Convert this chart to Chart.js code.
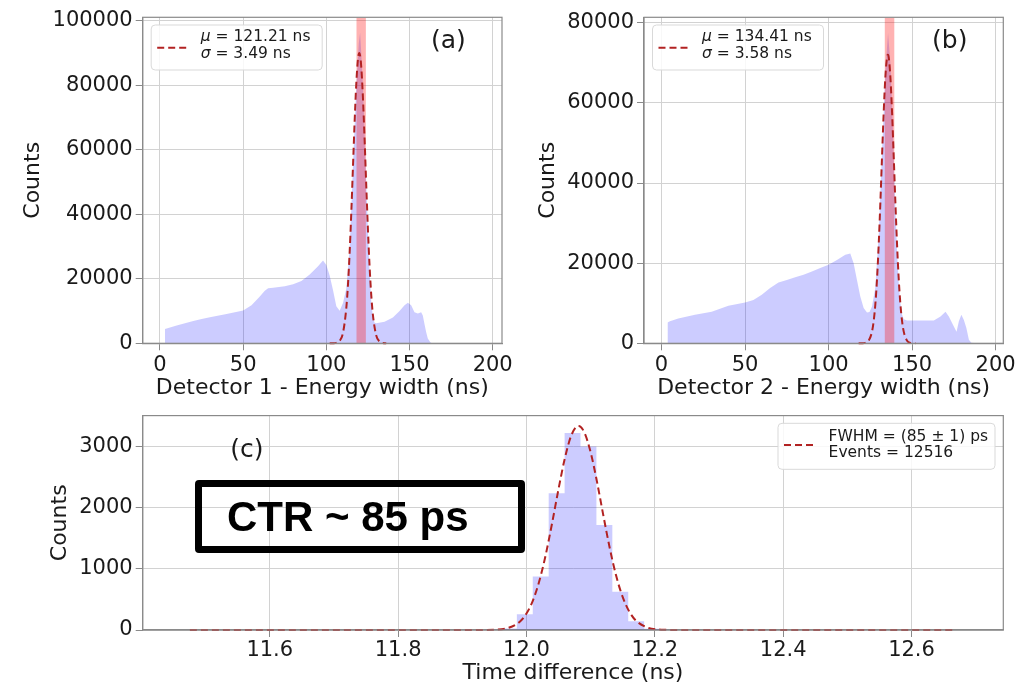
<!DOCTYPE html>
<html>
<head>
<meta charset="UTF-8"/>
<script src="https://cdn.jsdelivr.net/npm/chart.js@4.4.3/dist/chart.umd.min.js"></script>
<style>
  *{margin:0;padding:0;box-sizing:border-box}
  body{width:1035px;height:683px;background:#fff;position:relative;overflow:hidden}
  .panel{position:absolute}
  #ctr{position:absolute;left:195px;top:480px;width:330px;height:73px;border:7px solid #000;border-radius:4px;
       font:bold 42px 'Liberation Sans',Arial,sans-serif;line-height:59px;padding-left:25px;color:#000;white-space:nowrap}
</style>
</head>
<body>
<div class="panel" style="left:0;top:0"><canvas id="chA" width="520" height="410"></canvas></div>
<div class="panel" style="left:520px;top:0"><canvas id="chB" width="515" height="410"></canvas></div>
<div class="panel" style="left:0;top:400px"><canvas id="chC" width="1035" height="290"></canvas></div>
<div id="ctr">CTR ~ 85 ps</div>

<script>
// ─── Data: detector 1 energy width histogram (a) ──────────────────────────────
const aHistX = [2.9, 3, 10, 20, 25, 30, 40, 50, 55, 60, 63, 65, 68, 75, 80, 85, 90, 95, 98, 100,
  102, 104, 106, 108, 110, 112, 114, 116, 118, 119.5, 120.3, 121, 122, 123, 124, 125, 126, 127, 128,
  129, 130, 135, 140, 144, 147, 149, 151, 153, 155, 157, 158, 159, 160, 161, 162.5, 163.5];
const aHistY = [0, 4400, 5500, 6900, 7500, 8100, 9100, 10200, 11800, 14500, 16300, 17100, 17200, 17700,
  18300, 19300, 21300, 23900, 25700, 24300, 21000, 16500, 11500, 10100, 12500, 17000, 29000, 55000,
  80000, 93000, 96300, 90000, 80000, 66000, 50000, 35000, 22000, 13000, 8000, 6400, 6200, 6700, 8000,
  10000, 11800, 12600, 11800, 9600, 9200, 9600, 8600, 6000, 3500, 1500, 300, 0];
const aFitX = [102, 104, 106, 108, 110, 112, 113, 114, 115, 116, 117, 118, 119, 119.8, 120.5, 121, 122,
  123, 124, 125, 126, 127, 128, 130, 132, 134, 136];
const aFitY = [0, 16, 123, 726, 3240, 10940, 18150, 28080, 40530, 54590, 68600, 80450, 88020, 90000,
  88480, 85610, 76110, 63130, 48860, 35280, 23780, 14950, 8775, 2450, 520, 84, 10];
const aBand = [118.0, 123.8];
const aXTicks = [0, 50, 100, 150, 200];
const aYTicks = [0, 20000, 40000, 60000, 80000, 100000];
const aLegend = ['μ = 121.21 ns', 'σ = 3.49 ns'];

// ─── Data: detector 2 energy width histogram (b) ──────────────────────────────
const bHistX = [3.5, 3.6, 5, 10, 20, 30, 40, 50, 55, 60, 65, 70, 75, 80, 85, 90, 95, 100, 105, 110, 113,
  115, 117, 119, 121, 123, 124.5, 126, 128, 130, 132, 134, 135.6, 137, 138, 139, 140, 141, 142, 143,
  144, 145, 147, 155, 163, 167, 170, 172, 175, 176.6, 178, 179.5, 181, 182.5, 184, 185.5, 189];
const bHistY = [0, 5200, 5500, 6200, 7100, 7900, 9400, 10200, 10800, 12100, 13800, 15200, 15800, 16500,
  17100, 17900, 18800, 19600, 20800, 22100, 22400, 20000, 15800, 11700, 8800, 7700, 7800, 9200, 14000,
  27000, 48000, 68000, 77500, 70000, 60000, 47000, 34000, 23000, 15000, 10000, 7200, 6000, 5700, 5700,
  5700, 6700, 7900, 6700, 4200, 2900, 5500, 7100, 5800, 3800, 900, 150, 0];
const bFitX = [118, 120, 122, 124, 126, 127, 128, 129, 130, 131, 132, 133, 134, 135, 135.5, 136, 137,
  138, 139, 140, 141, 142, 143, 144, 145, 147, 149, 151, 152];
const bFitY = [1, 14, 110, 653, 2910, 5520, 9745, 16030, 24560, 35050, 46580, 57650, 66460, 71360,
  72000, 71360, 66460, 57650, 46580, 35050, 24560, 16030, 9745, 5520, 2910, 653, 110, 14, 3];
const bBand = [133.5, 139.5];
const bXTicks = [0, 50, 100, 150, 200];
const bYTicks = [0, 20000, 40000, 60000, 80000];
const bLegend = ['μ = 134.41 ns', 'σ = 3.58 ns'];

// ─── Data: time difference histogram (c) ──────────────────────────────────────
const cEdges  = [11.9354, 11.9602, 11.985, 12.0098, 12.0346, 12.0594, 12.0842, 12.109, 12.1338,
  12.1586, 12.1834, 12.2082, 12.233];
const cCounts = [4, 25, 257, 872, 2231, 3215, 2995, 1712, 626, 144, 22, 3];
const cFitX = [11.4755, 11.90, 11.93, 11.95, 11.97, 11.99, 12.00, 12.01, 12.02, 12.03, 12.04, 12.05,
  12.06, 12.07, 12.081, 12.09, 12.10, 12.11, 12.12, 12.13, 12.14, 12.15, 12.16, 12.17, 12.19, 12.21,
  12.23, 12.665];
const cFitY = [0, 0, 1, 5, 29, 139, 268, 481, 798, 1227, 1747, 2303, 2811, 3179, 3330, 3228, 2899,
  2412, 1857, 1325, 875, 536, 304, 159, 35, 6, 1, 0];
const cXTicks = [11.6, 11.8, 12.0, 12.2, 12.4, 12.6];
const cYTicks = [0, 1000, 2000, 3000];
const cLegend = ['FWHM = (85 ± 1) ps', 'Events = 12516'];

// ─── Style ────────────────────────────────────────────────────────────────────
const FONT  = "'DejaVu Sans', sans-serif";
const GRID  = '#d2d2d2', SPINE = '#8a8a8a', INK = '#1a1a1a';
const HIST_FILL = 'rgba(0,0,255,0.2)', BAND_FILL = 'rgba(255,0,0,0.3)', FIT = '#b22222';
const NONE = 'rgba(0,0,0,0)';
const DASH = [7, 4];

function pts(xs, ys) { return xs.map((x, i) => ({ x, y: ys[i] })); }

// full box round the plot area (matplotlib style spines)
const frame = {
  id: 'frame',
  afterDatasetsDraw(chart) {
    const { ctx, chartArea: a } = chart;
    ctx.save();
    ctx.strokeStyle = SPINE; ctx.lineWidth = 1.2;
    ctx.strokeRect(a.left, a.top, a.right - a.left, a.bottom - a.top);
    ctx.restore();
  }
};

// legend box with a dashed sample and two text lines (greek first char in italic)
const fitLegend = {
  id: 'fitLegend',
  afterDatasetsDraw(chart, args, o) {
    if (!o.lines) return;
    const { ctx, chartArea: a } = chart;
    const left = o.right ? a.right - o.dx : a.left + o.dx, top = a.top + o.dy;
    ctx.save();
    ctx.beginPath(); ctx.roundRect(left, top, o.w, o.h, 4);
    ctx.fillStyle = 'rgba(255,255,255,0.85)'; ctx.fill();
    ctx.strokeStyle = '#d9d9d9'; ctx.lineWidth = 1; ctx.stroke();
    ctx.setLineDash(DASH); ctx.strokeStyle = FIT; ctx.lineWidth = 2;
    ctx.beginPath(); ctx.moveTo(left + o.sx0, top + o.sy); ctx.lineTo(left + o.sx1, top + o.sy); ctx.stroke();
    ctx.setLineDash([]);
    ctx.fillStyle = INK; ctx.textBaseline = 'middle'; ctx.textAlign = 'left';
    for (let i = 0; i < o.lines.length; i++) {
      const t = o.lines[i], y = top + o.ty[i];
      let x = left + o.tx;
      if (t[0] === 'μ' || t[0] === 'σ') {
        ctx.font = `italic 15.5px ${FONT}`; ctx.fillText(t[0], x, y);
        x += ctx.measureText(t[0]).width;
        ctx.font = `15.5px ${FONT}`; ctx.fillText(t.slice(1), x, y);
      } else {
        ctx.font = `15.5px ${FONT}`; ctx.fillText(t, x, y);
      }
    }
    ctx.restore();
  }
};

const panelTag = {
  id: 'panelTag',
  afterDatasetsDraw(chart, args, o) {
    if (!o.text) return;
    const { ctx, chartArea: a } = chart;
    ctx.save();
    ctx.font = `25px ${FONT}`; ctx.fillStyle = INK;
    ctx.textAlign = 'center'; ctx.textBaseline = 'middle';
    ctx.fillText(o.text, a.left + o.fx * (a.right - a.left), a.top + o.fy * (a.bottom - a.top));
    ctx.restore();
  }
};

function axis(kind, min, max, ticks, title, size, titlePad, fmt, tickPad) {
  const horiz = kind === 'x';
  return {
    type: 'linear', min, max,
    afterBuildTicks: s => { s.ticks = ticks.map(v => ({ value: v })); },
    afterFit: s => { if (horiz) s.height = size; else s.width = size; },
    grid: { color: GRID, lineWidth: 1, tickColor: SPINE, tickLength: 7, drawTicks: true },
    border: { color: SPINE, width: 1.2 },
    ticks: { color: INK, font: { family: FONT, size: 21 }, padding: tickPad == null ? 3 : tickPad,
      maxRotation: 0, autoSkip: false, callback: fmt || (v => String(v)) },
    title: { display: true, text: title, color: INK, font: { family: FONT, size: 22 },
      padding: horiz ? { top: 0, bottom: titlePad } : { top: titlePad, bottom: 0 } }
  };
}

function baseOptions(pad, scales, legend, tag) {
  return {
    responsive: false, animation: false, devicePixelRatio: 1,
    layout: { padding: pad },
    scales,
    plugins: { legend: { display: false }, tooltip: { enabled: false }, fitLegend: legend, panelTag: tag }
  };
}

function energyChart(id, d) {
  return new Chart(document.getElementById(id), {
    type: 'line',
    data: { datasets: [
      { data: pts(d.fitX, d.fitY), borderColor: FIT, borderWidth: 2, borderDash: DASH, pointRadius: 0,
        fill: false, cubicInterpolationMode: 'monotone', clip: false },
      { data: [{ x: d.band[0], y: d.ymax }, { x: d.band[1], y: d.ymax }], borderColor: NONE, borderWidth: 0,
        backgroundColor: BAND_FILL, fill: 'origin', pointRadius: 0 },
      { data: pts(d.histX, d.histY), borderColor: NONE, borderWidth: 0, backgroundColor: HIST_FILL,
        fill: 'origin', pointRadius: 0 }
    ]},
    options: baseOptions(d.pad, {
      x: axis('x', d.xmin, d.xmax, d.xTicks, d.xTitle, d.xh, 8.8),
      y: axis('y', 0, d.ymax, d.yTicks, 'Counts', d.yw, d.yPad)
    }, { lines: d.legend, dx: 8.5, dy: 7.7, w: 171, h: 45, sx0: 6, sx1: 38, sy: 22.7, tx: 49.5, ty: [12.3, 29.3] },
       { text: d.tag, fx: 0.851, fy: 0.073 }),
    plugins: [frame, fitLegend, panelTag]
  });
}

energyChart('chA', { fitX: aFitX, fitY: aFitY, histX: aHistX, histY: aHistY, band: aBand,
  xmin: -10.4, xmax: 205.6, ymax: 101050, xTicks: aXTicks, yTicks: aYTicks,
  xTitle: 'Detector 1 - Energy width (ns)', legend: aLegend, tag: '(a)',
  pad: { top: 17.3, right: 18, left: 0, bottom: 0 }, xh: 66.7, yw: 142.7, yPad: 19.8 });

energyChart('chB', { fitX: bFitX, fitY: bFitY, histX: bHistX, histY: bHistY, band: bBand,
  xmin: -10.5, xmax: 204.6, ymax: 81350, xTicks: bXTicks, yTicks: bYTicks,
  xTitle: 'Detector 2 - Energy width (ns)', legend: bLegend, tag: '(b)',
  pad: { top: 17.3, right: 31.7, left: 0, bottom: 0 }, xh: 66.7, yw: 124, yPad: 14.8 });

// (c) histogram drawn as a stepped filled line: value held from each bin's left edge
const cHist = cEdges.map((e, i) => ({ x: e, y: i < cCounts.length ? cCounts[i] : 0 }));

new Chart(document.getElementById('chC'), {
  type: 'line',
  data: { datasets: [
    { data: pts(cFitX, cFitY), borderColor: FIT, borderWidth: 2, borderDash: DASH, pointRadius: 0,
      fill: false, cubicInterpolationMode: 'monotone', clip: false },
    { data: cHist, stepped: true, borderColor: NONE, borderWidth: 0, backgroundColor: HIST_FILL,
      fill: 'origin', pointRadius: 0 }
  ]},
  options: baseOptions({ top: 12.3, right: 31.7, left: 0, bottom: 0 }, {
    x: axis('x', 11.402, 12.743, cXTicks, 'Time difference (ns)', 60, 3.8, v => v.toFixed(1), 1),
    y: axis('y', 0, 3498, cYTicks, 'Counts', 142.7, 46.8)
  }, { lines: cLegend, right: true, dx: 225.3, dy: 7.7, w: 217, h: 46, sx0: 6, sx1: 38, sy: 21.7, tx: 50.6, ty: [13.3, 30] },
     { text: '(c)', fx: 0.121, fy: 0.164 }),
  plugins: [frame, fitLegend, panelTag]
});
</script>
</body>
</html>
